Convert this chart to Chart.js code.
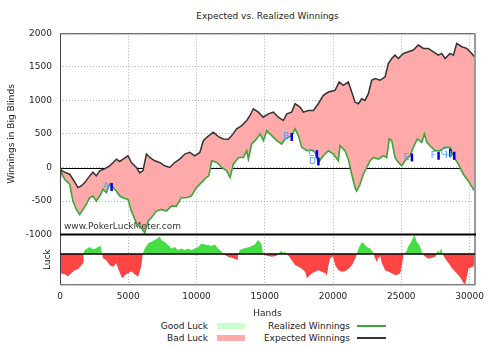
<!doctype html>
<html lang="en">
<head>
  <meta charset="utf-8">
  <title>Expected vs. Realized Winnings</title>
  <style>
    html, body { margin: 0; padding: 0; background: #fff; }
    body { font-family: 'DejaVu Sans', sans-serif; color: #222; font-size: 9px; }
    .wrap { position: relative; width: 500px; height: 350px; overflow: hidden; }
    .wrap canvas { position: absolute; left: 0; }
    #main { top: 0; z-index: 2; }
    #luck { top: 234px; z-index: 1; }
    .title { position: absolute; left: 60px; width: 415px; top: 10px; line-height: 12px; text-align: center; }
    .lg { position: absolute; line-height: 12px; white-space: nowrap; }
    .sw { position: absolute; }
  </style>
</head>
<body>
<div class="wrap">
  <div class="title">Expected vs. Realized Winnings</div>
  <canvas id="main" width="500" height="248"></canvas>
  <canvas id="luck" width="500" height="116"></canvas>

  <div class="lg" style="left:100px;width:108px;top:320px;text-align:right">Good Luck</div>
  <div class="sw" style="left:217px;top:323px;width:28px;height:6px;background:#ccffcc"></div>
  <div class="lg" style="left:100px;width:108px;top:331.5px;text-align:right">Bad Luck</div>
  <div class="sw" style="left:217px;top:335px;width:28px;height:6px;background:#ffaaaa"></div>

  <div class="lg" style="left:240px;width:110px;top:320px;text-align:right">Realized Winnings</div>
  <div class="sw" style="left:357px;top:325px;width:29px;height:2px;background:#3aa63a"></div>
  <div class="lg" style="left:240px;width:110px;top:331.5px;text-align:right">Expected Winnings</div>
  <div class="sw" style="left:357px;top:337px;width:29px;height:1.5px;background:#333"></div>
</div>

<script src="https://cdn.jsdelivr.net/npm/chart.js"></script>
<script>
  // axis ticks
  const handTicks = [0, 5000, 10000, 15000, 20000, 25000, 30000];
  const bbTicks = [-1000, -500, 0, 500, 1000, 1500, 2000];

  // cumulative winnings (big blinds) against hands played
  const expectedHands = [0, 50, 340, 710, 950, 1320, 1560, 1810, 2180, 2420, 2660, 2910, 3270, 3640, 3890, 4130,
    4370, 4620, 4980, 5230, 5600, 5840, 6080, 6330, 6570, 6940, 7300, 7670, 8040, 8400, 8770, 9140, 9500, 9870,
    10240, 10500, 10750, 11230, 11600, 11960, 12330, 12580, 12940, 13310, 13680, 13920, 14160, 14530, 14890,
    15260, 15630, 15990, 16360, 16610, 16970, 17220, 17580, 17830, 18190, 18560, 18920, 19290, 19660, 20150,
    20450, 20760, 21120, 21370, 21610, 21860, 22100, 22340, 22590, 22830, 23080, 23440, 23810, 24050, 24300,
    24540, 24790, 25150, 25520, 25880, 26250, 26620, 26980, 27350, 27720, 27960, 28210, 28570, 28820, 29060,
    29430, 29790, 30160, 30400];
  const expectedBB = [0, -35, -70, -100, -175, -300, -275, -225, -125, -70, -125, -50, -20, 25, 75, 125,
    90, 125, 175, 75, 0, -80, -45, 200, 150, 100, 75, 25, 0, 75, 125, 200, 225, 175,
    225, 400, 450, 525, 460, 425, 420, 475, 575, 625, 700, 775, 875, 825, 750,
    800, 825, 750, 700, 800, 825, 950, 900, 825, 850, 850, 950, 1075, 1125, 1150,
    1275, 1225, 1275, 1125, 975, 950, 1025, 1000, 1100, 1300, 1325, 1300, 1350, 1550, 1625,
    1675, 1625, 1700, 1725, 1750, 1825, 1775, 1775, 1725, 1675, 1700, 1625, 1700, 1675, 1850,
    1800, 1775, 1700, 1640];

  const realizedHands = [0, 50, 340, 710, 950, 1200, 1440, 1690, 1930, 2180, 2420, 2660, 2910, 3150, 3390, 3640,
    3890, 4130, 4380, 4620, 4980, 5230, 5590, 5960, 6210, 6450, 6690, 7060, 7430, 7790, 8160, 8530, 8890,
    9260, 9620, 9990, 10360, 10720, 10900, 11120, 11480, 11850, 12210, 12460, 12700, 13070, 13430, 13680,
    13800, 14040, 14290, 14660, 14900, 15150, 15510, 15880, 16240, 16490, 16970, 17220, 17460, 17710, 18080,
    18440, 18690, 18930, 19290, 19660, 20030, 20390, 20510, 20880, 21120, 21370, 21610, 21730, 21980, 22220,
    22470, 22710, 22950, 23320, 23690, 23930, 24120, 24300, 24540, 24790, 25030, 25270, 25640, 25880, 26180,
    26500, 26700, 26870, 27110, 27470, 27840, 28210, 28570, 28860, 29180, 29550, 29910, 30280, 30400];
  const realizedBB = [0, -50, -175, -250, -500, -625, -700, -625, -550, -450, -425, -500, -425, -325, -375, -250,
    -300, -350, -425, -450, -475, -650, -825, -900, -975, -800, -750, -650, -625, -650, -575, -575, -450,
    -450, -425, -300, -225, -150, -125, 100, 75, 0, -50, -150, 50, 150, 150, 250,
    125, 350, 400, 500, 400, 550, 475, 400, 350, 425, 475, 575, 475, 300, 250,
    260, 225, 75, 175, 250, 200, 100, 325, 250, 125, -100, -300, -350, -250, -100,
    0, 100, 150, 125, 175, 150, 425, 400, 150, 75, 25, 100, 175, 300, 425,
    375, 500, 375, 325, 250, 250, 300, 300, 150, 50, -100, -200, -325, -350];

  // running luck indicator for the lower panel
  const luckHands = [0, 50, 340, 590, 830, 1080, 1320, 1560, 1690, 1720, 1810, 2180, 2300, 2540, 2790, 2980,
    3080, 3150, 3400, 3640, 3890, 4130, 4250, 4500, 4620, 4740, 4980, 5230, 5470, 5720, 5840, 5960, 6060,
    6210, 6450, 6940, 7180, 7310, 7430, 7670, 7920, 8160, 8410, 8650, 8890, 9140, 9380, 9630, 9870, 10120,
    10360, 10600, 10850, 11090, 11340, 11580, 11830, 11950, 12070, 12310, 12560, 12800, 13000, 13070, 13170,
    13540, 13900, 14270, 14510, 14640, 14760, 14880, 15150, 15520, 15880, 16000, 16200, 16370, 16490, 16590,
    16740, 16980, 17230, 17470, 17710, 17960, 18080, 18200, 18450, 18690, 18940, 19180, 19430, 19550, 19670,
    19790, 20000, 20160, 20400, 20650, 20890, 21140, 21380, 21620, 21750, 21870, 22110, 22240, 22480, 22720,
    22890, 22970, 23090, 23210, 23340, 23460, 23580, 23820, 24070, 24310, 24560, 24800, 24920, 25050, 25170,
    25410, 25480, 25660, 25780, 25970, 26140, 26320, 26460, 26560, 26760, 27000, 27240, 27490, 27590, 27680,
    27780, 27930, 28020, 28220, 28470, 28710, 28950, 29200, 29440, 29560, 29690, 29810, 29930, 30160, 30400];
  const luckValue = [-8, -19, -20, -22, -19, -16, -15, -11, -9, 0, 4, 7, 5.5, 5, 7, 8,
    0, -4, -6, -11, -12.5, -9, -14, -22.5, -24, -21, -19, -17, -20, -22.5, -17.5, -11, 0,
    5.5, 10.5, 14, 16, 17.5, 14, 12, 9, 5.5, 7, 4, 5.5, 4, 5.5, 4, 5.5, 7,
    10.5, 9.5, 9, 8, 9.5, 5.5, 2.5, 0, -1, -2.5, -3.5, -4.5, -6, 0, 4,
    6, 7, 9.5, 14, 12, 10, 0, -1.5, -2.5, -1.5, 0, 3.5, 0.5, 2.5, 0,
    -1.5, -6, -11, -12.5, -14.5, -17.5, -24, -22.5, -19, -17.5, -16, -17.5, -19, -21, -11,
    -4, -2, -11, -16, -17.5, -17, -14.5, -11, -4.5, 0, 5.5, 12, 10.5, 7, 5.5,
    2.5, 0, -4.5, -7.5, -3.5, -2, -9, -16, -17.5, -19, -21, -20, -19, -11, 0,
    3, 7, 10.5, 14, 19, 12, 9, 4, 0, -2.5, -4.5, -3.5, -2.5, 0, 4,
    1, 6, 0, -4.5, -9, -14, -17.5, -21, -26, -29, -30, -22, -14, -13, -11];

  // annotated hands along the realized line
  const markerLabels = ['A', 'B', 'C', 'D', 'E', 'F', 'G', 'H'];
  const markerHands = [3780, 16980, 18820, 18930, 25780, 27730, 28590, 28880];
  const markerBB = [-290, 455, 200, 90, 150, 175, 220, 175];

  const FONT = { family: 'DejaVu Sans', size: 9 };
  const TEXT = '#222';

  const xy = (xs, ys) => xs.map((x, i) => ({ x, y: ys[i] }));
  const fixedTicks = list => s => { s.ticks = list.map(value => ({ value })); };

  // zero line, watermark, hand markers and frame for the winnings panel
  const winningsDecor = {
    id: 'winningsDecor',
    beforeDatasetsDraw(chart) {
      const { ctx, chartArea: a, scales: { y } } = chart;
      const y0 = Math.round(y.getPixelForValue(0)) + 0.5;
      ctx.save();
      ctx.strokeStyle = '#000';
      ctx.lineWidth = 1;
      ctx.beginPath();
      ctx.moveTo(a.left, y0);
      ctx.lineTo(a.right, y0);
      ctx.stroke();
      ctx.restore();
    },
    beforeDatasetDraw(chart, args) {
      if (args.index !== 0) return;
      const { ctx, chartArea: a } = chart;
      ctx.save();
      ctx.fillStyle = '#333';
      ctx.font = '9px "DejaVu Sans"';
      ctx.textBaseline = 'middle';
      ctx.fillText('www.PokerLuckMeter.com', a.left + 4, a.bottom - 8);
      ctx.restore();
    },
    afterDatasetsDraw(chart) {
      const { ctx, scales: { x, y } } = chart;
      ctx.save();
      ctx.font = '9px "DejaVu Sans"';
      ctx.textAlign = 'right';
      ctx.textBaseline = 'middle';
      markerLabels.forEach((lbl, i) => {
        const px = x.getPixelForValue(markerHands[i]);
        const py = y.getPixelForValue(markerBB[i]);
        ctx.strokeStyle = '#0000ee';
        ctx.lineWidth = 2.5;
        ctx.beginPath();
        ctx.moveTo(px, py - 4);
        ctx.lineTo(px, py + 4);
        ctx.stroke();
        ctx.fillStyle = '#4d9cff';
        ctx.fillText(lbl, px - 2.5, py);
      });
      ctx.restore();
    },
    afterDraw(chart) {
      const { ctx, chartArea: a } = chart;
      ctx.save();
      ctx.lineWidth = 1;
      ctx.strokeStyle = '#444';
      ctx.beginPath();
      ctx.moveTo(a.left + 0.5, a.bottom);
      ctx.lineTo(a.left + 0.5, a.top + 0.5);
      ctx.lineTo(a.right, a.top + 0.5);
      ctx.stroke();
      ctx.strokeStyle = '#999';
      ctx.lineWidth = 2;
      ctx.beginPath();
      ctx.moveTo(a.right, a.top);
      ctx.lineTo(a.right, a.bottom);
      ctx.stroke();
      // black rule separating the two panels
      ctx.strokeStyle = '#000';
      ctx.lineWidth = 2;
      ctx.beginPath();
      ctx.moveTo(a.left, a.bottom);
      ctx.lineTo(a.right + 1, a.bottom);
      ctx.stroke();
      ctx.restore();
    }
  };

  // frame and zero rule of the luck panel
  const luckDecor = {
    id: 'luckDecor',
    afterDraw(chart) {
      const { ctx, chartArea: a, scales: { y } } = chart;
      const y0 = y.getPixelForValue(0);
      ctx.save();
      ctx.strokeStyle = '#444';
      ctx.lineWidth = 1;
      ctx.beginPath();
      ctx.moveTo(a.left + 0.5, 0);
      ctx.lineTo(a.left + 0.5, a.bottom - 0.5);
      ctx.lineTo(a.right, a.bottom - 0.5);
      ctx.stroke();
      ctx.strokeStyle = '#999';
      ctx.lineWidth = 2;
      ctx.beginPath();
      ctx.moveTo(a.right, 0);
      ctx.lineTo(a.right, a.bottom);
      ctx.stroke();
      ctx.strokeStyle = '#000';
      ctx.lineWidth = 1.5;
      ctx.beginPath();
      ctx.moveTo(a.left, y0);
      ctx.lineTo(a.right, y0);
      ctx.stroke();
      ctx.restore();
    }
  };

  const dottedGrid = { drawTicks: false, color: '#b0b0b0', lineWidth: 1 };

  new Chart(document.getElementById('main'), {
    type: 'line',
    data: {
      datasets: [{
        label: 'Realized Winnings',
        data: xy(realizedHands, realizedBB),
        borderColor: '#3aa63a',
        borderWidth: 1.6,
        pointRadius: 0,
        order: 1,
        fill: { target: 1, above: '#ccffcc', below: '#ffaaaa' }
      }, {
        label: 'Expected Winnings',
        data: xy(expectedHands, expectedBB),
        borderColor: '#333',
        borderWidth: 1.5,
        pointRadius: 0,
        order: 0,
        fill: false
      }]
    },
    options: {
      responsive: false,
      animation: false,
      // the y tick labels already reserve ~13px below the plot
      layout: { padding: { left: 0, right: 25, top: 33.3, bottom: 0 } },
      plugins: { legend: { display: false }, tooltip: { enabled: false } },
      scales: {
        x: {
          type: 'linear', min: 0, max: 30400,
          afterBuildTicks: fixedTicks(handTicks),
          ticks: { display: false },
          grid: dottedGrid,
          border: { display: false, dash: [1, 2] },
          afterFit: s => { s.height = 0; }
        },
        y: {
          min: -1000, max: 2000,
          afterBuildTicks: fixedTicks(bbTicks),
          ticks: { padding: 8, color: TEXT, font: FONT, callback: v => String(v) },
          grid: dottedGrid,
          border: { display: false, dash: [1, 2] },
          title: { display: true, text: 'Winnings in Big Blinds', color: TEXT, font: FONT, padding: { top: 6, bottom: 0 } },
          afterFit: s => { s.width = 60; }
        }
      }
    },
    plugins: [winningsDecor]
  });

  new Chart(document.getElementById('luck'), {
    type: 'line',
    data: {
      datasets: [{
        label: 'Luck',
        data: xy(luckHands, luckValue),
        borderColor: 'rgba(0,0,0,0)',
        borderWidth: 0,
        pointRadius: 0,
        fill: { target: 'origin', above: '#44dd44', below: '#ff4444' }
      }]
    },
    options: {
      responsive: false,
      animation: false,
      layout: { padding: { left: 38, right: 25, top: 0, bottom: 4.7 } },
      plugins: { legend: { display: false }, tooltip: { enabled: false } },
      scales: {
        x: {
          type: 'linear', min: 0, max: 30400,
          afterBuildTicks: fixedTicks(handTicks),
          ticks: { padding: 6, color: TEXT, font: FONT, maxRotation: 0, callback: v => String(v) },
          grid: dottedGrid,
          border: { display: false, dash: [1, 2] },
          title: { display: true, text: 'Hands', color: TEXT, font: FONT, padding: { top: 0, bottom: 26.2 } },
          afterFit: s => { s.height = 60; }
        },
        y: {
          min: -31, max: 20,
          ticks: { display: false },
          grid: { display: false },
          border: { display: false },
          title: { display: true, text: 'Luck', color: TEXT, font: FONT, padding: { top: 4, bottom: 0 } },
          afterFit: s => { s.width = 22; }
        }
      }
    },
    plugins: [luckDecor]
  });
</script>
</body>
</html>
